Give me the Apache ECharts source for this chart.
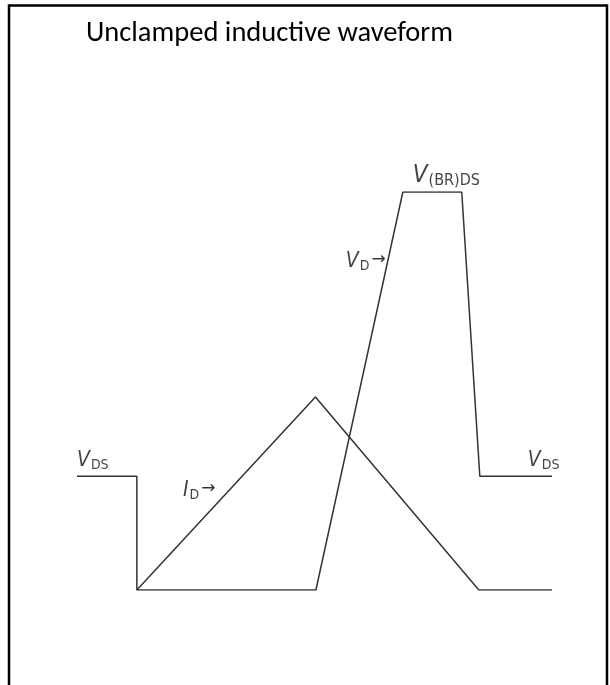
<!DOCTYPE html>
<html>
<head>
<meta charset="utf-8">
<script src="https://cdn.jsdelivr.net/npm/echarts@6/dist/echarts.min.js"></script>
<style>
  html, body { margin: 0; padding: 0; background: #fff; }
  #chart { width: 610px; height: 685px; }
</style>
</head>
<body>
<div id="chart"></div>
<script>
(function () {
    "use strict";

    // time axis is arbitrary units 0..100, amplitude 0..100 (V(BR)DS = 100)
    var vTime = [0, 12.6, 12.6, 50.3, 68.6, 81, 84.8, 100];
    var vDS = [28.6, 28.6, 0, 0, 100, 100, 28.6, 28.6];
    var iTime = [12.6, 50.2, 84.6, 100];
    var iD = [0, 48.5, 0, 0];

    // annotation anchors (bottom-left of each label), same units
    var labelX = [0, 94.9, 22.3, 56.6, 70.7];
    var labelY = [29.6, 29.6, 22.1, 79.6, 100.8];
    var labelText = [
        '{v|V}{s|DS}',
        '{v|V}{s|DS}',
        '{v|I}{s|D}{a|→}',
        '{v|V}{s|D}{a|→}',
        '{bv|V}{bs|(BR)DS}'
    ];

    var narrow = "'Liberation Sans Narrow', 'DejaVu Sans Condensed', 'Liberation Sans', sans-serif";
    var ink = '#111';

    function pairs(xs, ys) {
        return xs.map(function (x, i) { return [x, ys[i]]; });
    }

    var myChart = echarts.init(document.getElementById('chart'));

    var option = {
        backgroundColor: '#fff',
        animation: false,
        title: {
            text: 'Unclamped inductive waveform',
            left: 81,
            top: 14,
            textStyle: {
                fontFamily: "Carlito, Lato, 'Open Sans', sans-serif",
                fontWeight: 'normal',
                fontSize: 28.5,
                color: '#000'
            }
        },
        graphic: [{
            type: 'rect',
            shape: { x: 9, y: 5.5, width: 598, height: 700 },
            style: { fill: 'none', stroke: '#000', lineWidth: 2.5 },
            silent: true
        }],
        grid: { left: 77, right: 58, top: 192, bottom: 95 },
        xAxis: { type: 'value', min: 0, max: 100, show: false },
        yAxis: { type: 'value', min: 0, max: 100, show: false },
        series: [
            {
                name: 'VDS',
                type: 'line',
                data: pairs(vTime, vDS),
                symbol: 'none',
                lineStyle: { color: '#333', width: 1.5 }
            },
            {
                name: 'ID',
                type: 'line',
                data: pairs(iTime, iD),
                symbol: 'none',
                lineStyle: { color: '#333', width: 1.5 }
            },
            {
                name: 'labels',
                type: 'scatter',
                symbolSize: 0,
                clip: false,
                data: labelX.map(function (x, i) {
                    return { value: [x, labelY[i]], name: labelText[i] };
                }),
                label: {
                    show: true,
                    position: [0, 0],
                    align: 'left',
                    verticalAlign: 'bottom',
                    formatter: function (p) { return p.name; },
                    color: ink,
                    rich: {
                        v: { fontFamily: narrow, fontStyle: 'italic', fontSize: 21, lineHeight: 22, verticalAlign: 'top', color: ink },
                        s: { fontFamily: narrow, fontSize: 14, lineHeight: 14, padding: [11, 0, 0, 1], verticalAlign: 'bottom', color: ink },
                        a: { fontFamily: 'DejaVu Sans', fontSize: 17, lineHeight: 18, padding: [0, 0, 0, 2], verticalAlign: 'top', color: '#000' },
                        bv: { fontFamily: narrow, fontStyle: 'italic', fontSize: 24, lineHeight: 25, verticalAlign: 'top', color: ink },
                        bs: { fontFamily: narrow, fontSize: 16, lineHeight: 16, padding: [12, 0, 0, 1], verticalAlign: 'bottom', color: ink }
                    }
                }
            }
        ]
    };

    myChart.setOption(option, true);
})();
</script>
</body>
</html>
